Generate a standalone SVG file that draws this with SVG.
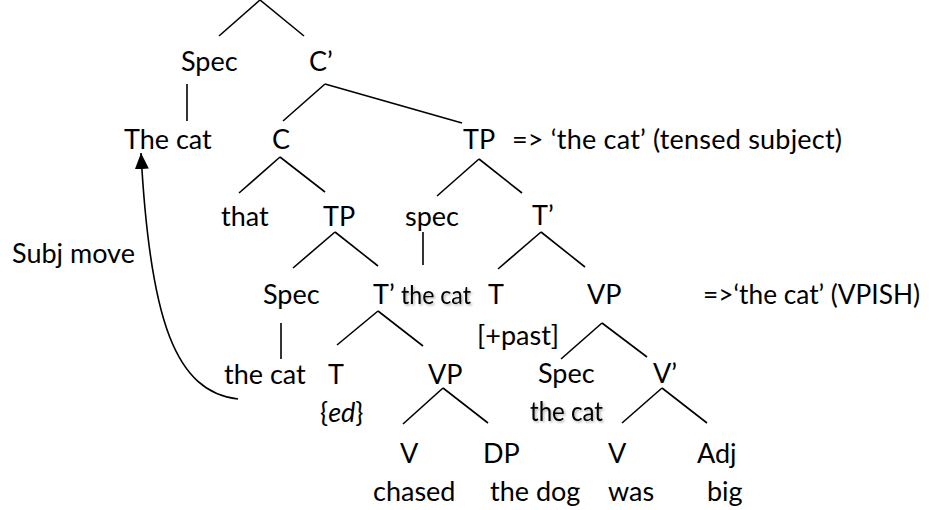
<svg xmlns="http://www.w3.org/2000/svg" width="930" height="510" viewBox="0 0 930 510">
<style>
text{font-family:Lato,"Open Sans","Liberation Sans",sans-serif;font-size:27px;fill:#000}
.e line,.e path{stroke:#000;stroke-width:1.6;fill:none}
.sh{filter:url(#ds)}
.s1{font-size:25.5px}
.s2{font-size:26px}
</style>
<defs>
<filter id="ds" x="-10%" y="-30%" width="130%" height="170%">
<feDropShadow dx="1.5" dy="1.5" stdDeviation="1.2" flood-color="#000" flood-opacity="0.3"/>
</filter>
<marker id="ah" markerWidth="16" markerHeight="14" refX="16" refY="7" orient="auto" markerUnits="userSpaceOnUse" viewBox="0 0 16 14">
<path d="M0,0 L16,7 L0,14 Z" fill="#000"/>
</marker>
</defs>
<rect width="930" height="510" fill="#fff"/>
<g class="e" id="connectors">
<line x1="260" y1="0" x2="219" y2="36"/>
<line x1="260" y1="0" x2="304" y2="36"/>
<line x1="187" y1="84" x2="187" y2="121"/>
<line x1="325" y1="84" x2="283" y2="121"/>
<line x1="325" y1="84" x2="462" y2="123"/>
<line x1="280" y1="157" x2="239" y2="193"/>
<line x1="280" y1="157" x2="325" y2="192"/>
<line x1="479" y1="159" x2="437" y2="196"/>
<line x1="479" y1="159" x2="522" y2="193"/>
<line x1="335" y1="232" x2="293" y2="268"/>
<line x1="335" y1="232" x2="378" y2="266"/>
<line x1="423" y1="232" x2="423" y2="265"/>
<line x1="541" y1="232" x2="498" y2="269"/>
<line x1="541" y1="232" x2="585" y2="267"/>
<line x1="281" y1="323" x2="281" y2="359"/>
<line x1="378" y1="311" x2="337" y2="345"/>
<line x1="378" y1="311" x2="423" y2="346"/>
<line x1="602" y1="323" x2="561" y2="359"/>
<line x1="602" y1="323" x2="647" y2="357"/>
<line x1="443" y1="388" x2="403" y2="424"/>
<line x1="443" y1="388" x2="488" y2="423"/>
<line x1="662" y1="388" x2="622" y2="423"/>
<line x1="662" y1="388" x2="707" y2="423"/>
<path d="M238,399 C176,392 150,322 141,153" marker-end="url(#ah)"/>
</g>
<g id="spec1"><text x="181" y="71">Spec</text></g>
<g id="cbar"><text x="309" y="71">C’</text></g>
<g id="thecat1"><text x="124" y="149">The cat</text></g>
<g id="c"><text x="272" y="149">C</text></g>
<g id="tp1"><text x="463" y="149">TP</text></g>
<g id="note1"><text x="512" y="149" textLength="330">=&gt; ‘the cat’ (tensed subject)</text></g>
<g id="that"><text x="221" y="226">that</text></g>
<g id="tp2"><text x="323" y="226">TP</text></g>
<g id="spec2"><text x="405" y="226">spec</text></g>
<g id="tbar1"><text x="532" y="225">T’</text></g>
<g id="subjmove"><text x="12" y="263">Subj move</text></g>
<g id="spec3"><text x="263" y="304">Spec</text></g>
<g id="tbar2"><text x="373" y="304">T’</text></g>
<g id="thecat2"><text class="sh s1" x="401" y="304" textLength="70" lengthAdjust="spacingAndGlyphs">the cat</text></g>
<g id="t1"><text x="488" y="304">T</text></g>
<g id="vp1"><text x="587" y="304">VP</text></g>
<g id="note2"><text x="703" y="304" textLength="217" lengthAdjust="spacingAndGlyphs">=&gt;‘the cat’ (VPISH)</text></g>
<g id="past"><text x="477" y="345">[+past]</text></g>
<g id="thecat3"><text x="224" y="384">the cat</text></g>
<g id="t2"><text x="328" y="384">T</text></g>
<g id="vp2"><text x="428" y="384">VP</text></g>
<g id="spec4"><text x="538" y="383">Spec</text></g>
<g id="vbar"><text x="653" y="383">V’</text></g>
<g id="ed"><text x="320" y="422">{<tspan font-style="italic">ed</tspan>}</text></g>
<g id="thecat4"><text class="sh s2" x="530" y="421" textLength="73" lengthAdjust="spacingAndGlyphs">the cat</text></g>
<g id="v1"><text x="400" y="463">V</text></g>
<g id="dp"><text x="483" y="463">DP</text></g>
<g id="v2"><text x="608" y="463">V</text></g>
<g id="adj"><text x="697" y="463">Adj</text></g>
<g id="chased"><text x="373" y="501">chased</text></g>
<g id="thedog"><text x="490" y="501">the dog</text></g>
<g id="was"><text x="608" y="501">was</text></g>
<g id="big"><text x="707" y="501">big</text></g>
</svg>
